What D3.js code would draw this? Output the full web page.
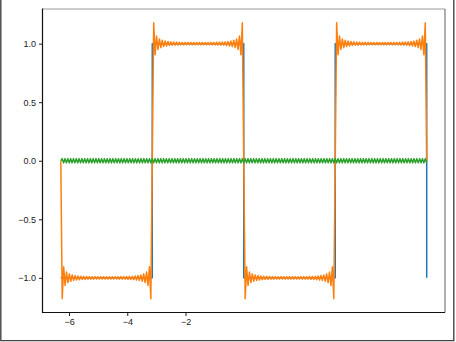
<!DOCTYPE html>
<meta charset="utf-8">
<style>

body {
  margin: 0;
  background: #fff;
}

svg {
  display: block;
  font-family: 'DejaVu Sans', sans-serif;
}

.tick text
{
    font-size: 9px;
    fill: #1a1a1a;
}

.tick line
{
    stroke: #1a1a1a;
}

path.series
{
    fill: none;
    stroke-width: 1.5;
    stroke-linejoin: round;
}

</style>
<body>
<div id='chart'></div>
<script src="https://d3js.org/d3.v7.min.js"></script>
<script>
var PI = Math.PI

// every series runs from -2pi to 2pi, evenly sampled
var xStart = -2*PI, xEnd = 2*PI

// square wave corners
var squareX = [-2*PI, -PI, -PI, 0, 0, PI, PI, 2*PI, 2*PI]
var squareY = [-1, -1, 1, 1, -1, -1, 1, 1, -1]

// partial fourier sum, ripple extremes (one row per half period)
var fourierY = [0,
 -1.178,-0.905,-1.065,-0.950,-1.040,-0.966,-1.029,-0.975,-1.022,-0.980,-1.018,-0.984,-1.015,-0.986,-1.014,-0.987,-1.013,-0.988,-1.012,-0.989,-1.011,-0.989,-1.011,-0.990,-1.010,-0.990,-1.010,-0.990,-1.010,-0.990,-1.010,-0.990,
 -1.010,-0.990,-1.010,-0.990,-1.010,-0.990,-1.010,-0.990,-1.011,-0.989,-1.011,-0.989,-1.012,-0.988,-1.013,-0.987,-1.014,-0.986,-1.015,-0.984,-1.018,-0.980,-1.022,-0.975,-1.029,-0.966,-1.040,-0.950,-1.065,-0.905,-1.178,0,
 1.178,0.905,1.065,0.950,1.040,0.966,1.029,0.975,1.022,0.980,1.018,0.984,1.015,0.986,1.014,0.987,1.013,0.988,1.012,0.989,1.011,0.989,1.011,0.990,1.010,0.990,1.010,0.990,1.010,0.990,1.010,0.990,
 1.010,0.990,1.010,0.990,1.010,0.990,1.010,0.990,1.011,0.989,1.011,0.989,1.012,0.988,1.013,0.987,1.014,0.986,1.015,0.984,1.018,0.980,1.022,0.975,1.029,0.966,1.040,0.950,1.065,0.905,1.178,0,
 -1.178,-0.905,-1.065,-0.950,-1.040,-0.966,-1.029,-0.975,-1.022,-0.980,-1.018,-0.984,-1.015,-0.986,-1.014,-0.987,-1.013,-0.988,-1.012,-0.989,-1.011,-0.989,-1.011,-0.990,-1.010,-0.990,-1.010,-0.990,-1.010,-0.990,-1.010,-0.990,
 -1.010,-0.990,-1.010,-0.990,-1.010,-0.990,-1.010,-0.990,-1.011,-0.989,-1.011,-0.989,-1.012,-0.988,-1.013,-0.987,-1.014,-0.986,-1.015,-0.984,-1.018,-0.980,-1.022,-0.975,-1.029,-0.966,-1.040,-0.950,-1.065,-0.905,-1.178,0,
 1.178,0.905,1.065,0.950,1.040,0.966,1.029,0.975,1.022,0.980,1.018,0.984,1.015,0.986,1.014,0.987,1.013,0.988,1.012,0.989,1.011,0.989,1.011,0.990,1.010,0.990,1.010,0.990,1.010,0.990,1.010,0.990,
 1.010,0.990,1.010,0.990,1.010,0.990,1.010,0.990,1.011,0.989,1.011,0.989,1.012,0.988,1.013,0.987,1.014,0.986,1.015,0.984,1.018,0.980,1.022,0.975,1.029,0.966,1.040,0.950,1.065,0.905,1.178,0
]

// the small green wiggle around zero
var residualY = [0,
 .018,-.018,.018,-.018,.018,-.018,.018,-.018,.018,-.018,.018,-.018,.018,-.018,.018,-.018,.018,-.018,.018,-.018,
 .018,-.018,.018,-.018,.018,-.018,.018,-.018,.018,-.018,.018,-.018,.018,-.018,.018,-.018,.018,-.018,.018,-.018,
 .018,-.018,.018,-.018,.018,-.018,.018,-.018,.018,-.018,.018,-.018,.018,-.018,.018,-.018,.018,-.018,.018,-.018,
 .018,-.018,.018,-.018,.018,-.018,.018,-.018,.018,-.018,.018,-.018,.018,-.018,.018,-.018,.018,-.018,.018,-.018,
 .018,-.018,.018,-.018,.018,-.018,.018,-.018,.018,-.018,.018,-.018,.018,-.018,.018,-.018,.018,-.018,.018,-.018,
 .018,-.018,.018,-.018,.018,-.018,.018,-.018,.018,-.018,.018,-.018,.018,-.018,.018,-.018,.018,-.018,.018,-.018,
 .018,-.018,.018,-.018,.018,-.018,.018,-.018,.018,-.018,.018,-.018,.018,-.018,.018,-.018,.018,-.018,.018,-.018,
 .018,-.018,.018,-.018,.018,-.018,.018,-.018,.018,-.018,.018,-.018,.018,-.018,.018,-.018,.018,-.018,.018,-.018,
 .018,-.018,.018,-.018,.018,-.018,.018,-.018,.018,-.018,.018,-.018,.018,-.018,.018,-.018,.018,-.018,.018,-.018,
 .018,-.018,.018,-.018,.018,-.018,.018,-.018,.018,-.018,.018,-.018,.018,-.018,.018,-.018,.018,-.018,.018,-.018,
 .018,-.018,.018,-.018,.018,-.018,.018,-.018,.018,-.018,.018,-.018,.018,-.018,.018,-.018,.018,-.018,.018,-.018,
 .018,-.018,.018,-.018,.018,-.018,.018,-.018,.018,-.018,.018,-.018,.018,-.018,.018,-.018,.018,-.018,.018,-.018,
 .018,-.018,.018,-.018,.018,-.018,.018,-.018,.018,-.018,.018,-.018,.018,-.018,.018,-.018,.018,-.018,.018,-.018
]

var xTicks = [-6, -4, -2]
var yTicks = [-1, -0.5, 0, 0.5, 1]

var colors = ['#1f77b4', '#ff7f0e', '#2ca02c']

var width = 456, height = 342
var plot = {left: 42.5, right: 445, top: 9, bottom: 312.5}

var svg = d3.select('#chart')
            .append('svg')
            .attr('width', width)
            .attr('height', height)

// matplotlib style 5% margins
var xPad = 0.05*(xEnd - xStart)
var yExt = d3.extent(fourierY)
var yPad = 0.05*(yExt[1] - yExt[0])

var x = d3.scaleLinear()
  .domain([xStart - xPad, xEnd + xPad])
  .range([plot.left, plot.right])

var y = d3.scaleLinear()
  .domain([yExt[0] - yPad, yExt[1] + yPad])
  .range([plot.bottom, plot.top])

var fourierX = d3.scaleLinear().domain([0, fourierY.length - 1]).range([xStart, xEnd])
var residualX = d3.scaleLinear().domain([0, residualY.length - 1]).range([xStart, xEnd])

var lineSquare = d3.line()
  .x(function(d, i) { return x(squareX[i]) })
  .y(function(d) { return y(d) })

var lineFourier = d3.line()
  .x(function(d, i) { return x(fourierX(i)) })
  .y(function(d) { return y(d) })

var lineResidual = d3.line()
  .x(function(d, i) { return x(residualX(i)) })
  .y(function(d) { return y(d) })

svg.append('path')
  .attr('class', 'series')
  .style('stroke', colors[0])
  .datum(squareY)
  .attr('d', lineSquare)

svg.append('path')
  .attr('class', 'series')
  .style('stroke', colors[1])
  .datum(fourierY)
  .attr('d', lineFourier)

svg.append('path')
  .attr('class', 'series')
  .style('stroke', colors[2])
  .datum(residualY)
  .attr('d', lineResidual)

// axes
svg.append('g')
  .attr('transform', 'translate(' + plot.left + ',0)')
  .call(d3.axisLeft(y).tickValues(yTicks).tickSize(3.5).tickPadding(3).tickFormat(d3.format('.1f')))
  .call(function(g) { g.select('.domain').remove() })

svg.append('g')
  .attr('transform', 'translate(0,' + plot.bottom + ')')
  .call(d3.axisBottom(x).tickValues(xTicks).tickSize(3.5).tickPadding(3).tickFormat(d3.format('d')))
  .call(function(g) { g.select('.domain').remove() })

// spines
svg.append('line')
  .attr('x1', plot.left).attr('x2', plot.right)
  .attr('y1', plot.top).attr('y2', plot.top)
  .style('stroke', '#9a9a9a').style('stroke-width', 1.2)

svg.append('line')
  .attr('x1', plot.right).attr('x2', plot.right)
  .attr('y1', plot.top).attr('y2', plot.bottom)
  .style('stroke', '#7a7a7a').style('stroke-width', 1.2)

svg.append('line')
  .attr('x1', plot.left).attr('x2', plot.left)
  .attr('y1', plot.top - 0.6).attr('y2', plot.bottom + 0.6)
  .style('stroke', '#111').style('stroke-width', 1.2)

svg.append('line')
  .attr('x1', plot.left).attr('x2', plot.right)
  .attr('y1', plot.bottom).attr('y2', plot.bottom)
  .style('stroke', '#111').style('stroke-width', 1.2)

// screenshot frame
svg.append('path')
  .attr('d', 'M0.8,0 V340.6 H453.8 V0')
  .style('fill', 'none')
  .style('stroke', '#444')
  .style('stroke-width', 1.4)

</script>
</body>
